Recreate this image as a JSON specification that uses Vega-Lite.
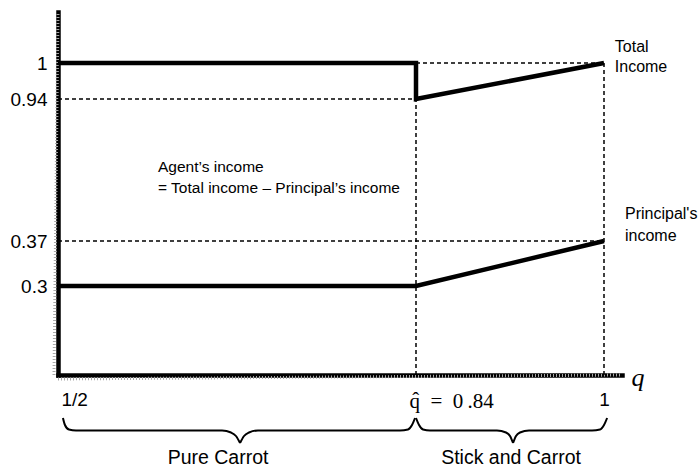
{
  "$schema": "https://vega.github.io/schema/vega-lite/v6.json",
  "width": 564,
  "height": 363,
  "autosize": "none",
  "padding": {"left": 58, "top": 12, "right": 77, "bottom": 93},
  "background": "white",
  "config": {"view": {"stroke": null}, "font": "Liberation Sans", "axis": {"labelColor": "black", "labelFont": "Liberation Sans"}},
  "resolve": {"scale": {"y": "independent"}},
  "layer": [
    {
      "encoding": {
        "x": {
          "field": "q", "type": "quantitative",
          "scale": {"domain": [0.5, 0.84, 1, 1.015], "range": [0, 358, 546, 564], "nice": false, "zero": false},
          "axis": {
            "values": [0.5, 0.84, 1],
            "labelExpr": "datum.value == 0.5 ? '1/2' : (datum.value == 0.84 ? 'q\u0302\u2002=\u20020\u2009.84' : '1')",
            "labelAlign": {"condition": {"test": "datum.value < 0.9", "value": "left"}, "value": "center"},
            "labelOffset": {"condition": [{"test": "datum.value == 0.5", "value": 3}, {"test": "datum.value == 0.84", "value": -7}], "value": 0},
            "labelFont": {"condition": {"test": "datum.value == 0.84", "value": "Liberation Serif"}, "value": "Liberation Sans"},
            "labelFontSize": {"condition": {"test": "datum.value == 0.84", "value": 21}, "value": 19},
            "labelPadding": 15,
            "labelFlush": false,
            "labelOverlap": false,
            "ticks": false,
            "grid": false,
            "domainColor": "black",
            "domainWidth": 4.5,
            "domainCap": "square",
            "title": "q",
            "titleFont": "Liberation Serif",
            "titleFontStyle": "italic",
            "titleFontWeight": "normal",
            "titleFontSize": 26,
            "titleColor": "black",
            "titleX": 573,
            "titleY": 10,
            "titleAlign": "left",
            "titleBaseline": "alphabetic",
            "titleAngle": 0
          }
        },
        "y": {
          "field": "y", "type": "quantitative",
          "scale": {"domain": [0, 0.3, 0.37, 0.94, 1, 1.16], "range": [363, 274, 229, 87, 51, 0], "nice": false, "zero": false},
          "axis": {
            "values": [0.3, 0.37, 0.94, 1],
            "labelExpr": "'' + datum.value",
            "labelFontSize": 19,
            "labelPadding": 11,
            "ticks": false,
            "grid": false,
            "domainColor": "black",
            "domainWidth": 4.5,
            "domainCap": "square",
            "title": null
          }
        }
      },
      "layer": [
        {
          "data": {"values": [{"q": 0.5, "q2": 0.5, "y": 0, "y2": 1.16}]},
          "mark": {"type": "rule", "color": "#a8a8a8", "strokeWidth": 3, "strokeDash": [1, 2], "xOffset": -4},
          "encoding": {"x2": {"field": "q2"}, "y2": {"field": "y2"}}
        },
        {
          "data": {"values": [{"q": 0.5, "q2": 1.015, "y": 0, "y2": 0}]},
          "mark": {"type": "rule", "color": "#a8a8a8", "strokeWidth": 3, "strokeDash": [1, 2], "yOffset": 4},
          "encoding": {"x2": {"field": "q2"}, "y2": {"field": "y2"}}
        },
        {
          "data": {"values": [
            {"q": 0.5, "q2": 0.84, "y": 0.94, "y2": 0.94},
            {"q": 0.5, "q2": 1, "y": 0.37, "y2": 0.37},
            {"q": 0.84, "q2": 1, "y": 1, "y2": 1},
            {"q": 0.84, "q2": 0.84, "y": 0, "y2": 1},
            {"q": 1, "q2": 1, "y": 0, "y2": 1}
          ]},
          "mark": {"type": "rule", "color": "black", "strokeWidth": 1.5, "strokeDash": [4, 3]},
          "encoding": {"x2": {"field": "q2"}, "y2": {"field": "y2"}}
        },
        {
          "data": {"values": [
            {"series": "Total income", "i": 1, "q": 0.5, "y": 1},
            {"series": "Total income", "i": 2, "q": 0.84, "y": 1},
            {"series": "Total income", "i": 3, "q": 0.84, "y": 0.94},
            {"series": "Total income", "i": 4, "q": 1, "y": 1},
            {"series": "Principal's income", "i": 1, "q": 0.5, "y": 0.3},
            {"series": "Principal's income", "i": 2, "q": 0.84, "y": 0.3},
            {"series": "Principal's income", "i": 3, "q": 1, "y": 0.37}
          ]},
          "mark": {"type": "line", "color": "black", "strokeWidth": 4.5, "strokeJoin": "miter"},
          "encoding": {"detail": {"field": "series"}, "order": {"field": "i", "type": "quantitative"}}
        },
        {
          "data": {"values": [
            {"q": 1.009, "y": 1.05, "label": "Total"},
            {"q": 1.009, "y": 0.993, "label": "Income"},
            {"q": 1.0175, "y": 0.478, "label": "Principal's"},
            {"q": 1.0175, "y": 0.39, "label": "income"}
          ]},
          "mark": {"type": "text", "align": "left", "baseline": "middle", "fontSize": 16, "color": "black"},
          "encoding": {"text": {"field": "label"}}
        },
        {
          "data": {"values": [
            {"q": 0.595, "y": 0.667, "label": "Agent’s income"},
            {"q": 0.595, "y": 0.583, "label": "= Total income – Principal’s income"}
          ]},
          "mark": {"type": "text", "align": "left", "baseline": "middle", "fontSize": 15.5, "color": "black"},
          "encoding": {"text": {"field": "label"}}
        }
      ]
    },
    {
      "encoding": {
        "x": {"field": "q", "type": "quantitative"},
        "y": {"field": "b", "type": "quantitative", "scale": {"domain": [0, 1], "range": [406, 431], "nice": false, "zero": false}, "axis": null}
      },
      "layer": [
        {
          "data": {"values": [
            {"seg": "a1", "i": 1, "q": 0.5047, "b": 0},
            {"seg": "a1", "i": 2, "q": 0.5066, "b": 0.28},
            {"seg": "a1", "i": 3, "q": 0.5104, "b": 0.46},
            {"seg": "a1", "i": 4, "q": 0.5171, "b": 0.5},
            {"seg": "a1", "i": 5, "q": 0.6558, "b": 0.5},
            {"seg": "a1", "i": 6, "q": 0.6643, "b": 0.58},
            {"seg": "a1", "i": 7, "q": 0.669, "b": 0.72},
            {"seg": "a1", "i": 8, "q": 0.6729, "b": 1},
            {"seg": "a2", "i": 1, "q": 0.6729, "b": 1},
            {"seg": "a2", "i": 2, "q": 0.6767, "b": 0.72},
            {"seg": "a2", "i": 3, "q": 0.6814, "b": 0.58},
            {"seg": "a2", "i": 4, "q": 0.6899, "b": 0.5},
            {"seg": "a2", "i": 5, "q": 0.8248, "b": 0.5},
            {"seg": "a2", "i": 6, "q": 0.8324, "b": 0.46},
            {"seg": "a2", "i": 7, "q": 0.8362, "b": 0.28},
            {"seg": "a2", "i": 8, "q": 0.8391, "b": 0},
            {"seg": "b1", "i": 1, "q": 0.84, "b": 0},
            {"seg": "b1", "i": 2, "q": 0.8426, "b": 0.28},
            {"seg": "b1", "i": 3, "q": 0.846, "b": 0.46},
            {"seg": "b1", "i": 4, "q": 0.8519, "b": 0.5},
            {"seg": "b1", "i": 5, "q": 0.9089, "b": 0.5},
            {"seg": "b1", "i": 6, "q": 0.9166, "b": 0.58},
            {"seg": "b1", "i": 7, "q": 0.92, "b": 0.72},
            {"seg": "b1", "i": 8, "q": 0.9226, "b": 1},
            {"seg": "b2", "i": 1, "q": 0.9226, "b": 1},
            {"seg": "b2", "i": 2, "q": 0.9251, "b": 0.72},
            {"seg": "b2", "i": 3, "q": 0.9285, "b": 0.58},
            {"seg": "b2", "i": 4, "q": 0.9362, "b": 0.5},
            {"seg": "b2", "i": 5, "q": 0.9898, "b": 0.5},
            {"seg": "b2", "i": 6, "q": 0.9966, "b": 0.46},
            {"seg": "b2", "i": 7, "q": 1.0, "b": 0.28},
            {"seg": "b2", "i": 8, "q": 1.0026, "b": 0}
          ]},
          "mark": {"type": "line", "interpolate": "monotone", "color": "black", "strokeWidth": 2},
          "encoding": {"detail": {"field": "seg"}, "order": {"field": "i", "type": "quantitative"}}
        },
        {
          "data": {"values": [
            {"q": 0.652, "b": 1.6, "label": "Pure Carrot"},
            {"q": 0.9209, "b": 1.6, "label": "Stick and Carrot"}
          ]},
          "mark": {"type": "text", "align": "center", "baseline": "middle", "fontSize": 19.5, "color": "black"},
          "encoding": {"text": {"field": "label"}}
        }
      ]
    }
  ]
}
